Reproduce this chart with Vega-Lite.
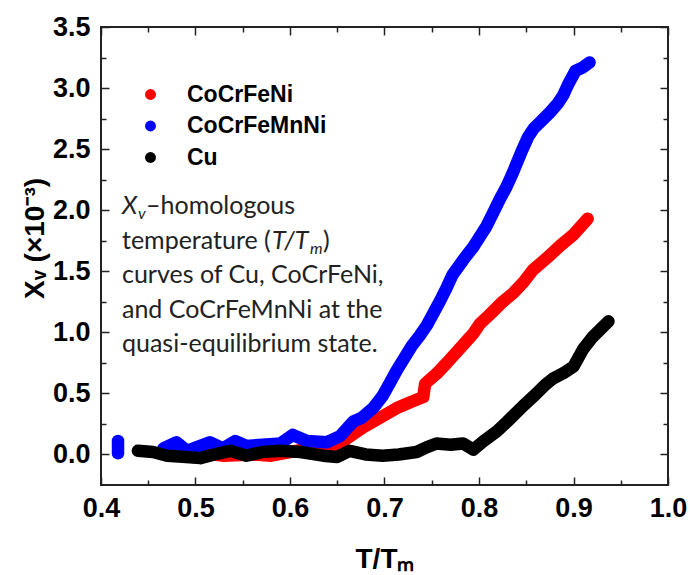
{
  "$schema": "https://vega.github.io/schema/vega-lite/v6.json",
  "width": 567,
  "height": 458,
  "autosize": {"type": "none"},
  "padding": {"left": 101, "top": 27, "right": 22, "bottom": 90},
  "background": "white",
  "config": {
    "view": {"stroke": "#222222", "strokeWidth": 2},
    "axis": {
      "grid": false, "domain": false, "tickColor": "#222222", "tickWidth": 1.5, "labelFlush": false,
      "labelFont": "Liberation Sans", "labelFontWeight": "bold", "labelFontSize": 27, "labelColor": "#000000",
      "titleFont": "Liberation Sans", "titleFontWeight": "bold", "titleColor": "#000000", "titleFontSize": 28
    }
  },
  "datasets": {
    "curves": [
      {"s": "CoCrFeNi", "seg": "a", "t": 0.465, "xv": 0.03},
      {"s": "CoCrFeNi", "seg": "a", "t": 0.50, "xv": 0.02},
      {"s": "CoCrFeNi", "seg": "a", "t": 0.53, "xv": -0.01},
      {"s": "CoCrFeNi", "seg": "a", "t": 0.56, "xv": 0.00},
      {"s": "CoCrFeNi", "seg": "a", "t": 0.58, "xv": -0.01},
      {"s": "CoCrFeNi", "seg": "a", "t": 0.60, "xv": 0.02},
      {"s": "CoCrFeNi", "seg": "a", "t": 0.62, "xv": 0.05},
      {"s": "CoCrFeNi", "seg": "a", "t": 0.642, "xv": 0.06},
      {"s": "CoCrFeNi", "seg": "a", "t": 0.660, "xv": 0.13},
      {"s": "CoCrFeNi", "seg": "a", "t": 0.677, "xv": 0.22},
      {"s": "CoCrFeNi", "seg": "a", "t": 0.695, "xv": 0.30},
      {"s": "CoCrFeNi", "seg": "a", "t": 0.713, "xv": 0.38},
      {"s": "CoCrFeNi", "seg": "a", "t": 0.728, "xv": 0.43},
      {"s": "CoCrFeNi", "seg": "a", "t": 0.741, "xv": 0.47},
      {"s": "CoCrFeNi", "seg": "a", "t": 0.743, "xv": 0.58},
      {"s": "CoCrFeNi", "seg": "a", "t": 0.755, "xv": 0.66},
      {"s": "CoCrFeNi", "seg": "a", "t": 0.766, "xv": 0.75},
      {"s": "CoCrFeNi", "seg": "a", "t": 0.780, "xv": 0.87},
      {"s": "CoCrFeNi", "seg": "a", "t": 0.794, "xv": 0.99},
      {"s": "CoCrFeNi", "seg": "a", "t": 0.801, "xv": 1.07},
      {"s": "CoCrFeNi", "seg": "a", "t": 0.812, "xv": 1.15},
      {"s": "CoCrFeNi", "seg": "a", "t": 0.825, "xv": 1.25},
      {"s": "CoCrFeNi", "seg": "a", "t": 0.836, "xv": 1.32},
      {"s": "CoCrFeNi", "seg": "a", "t": 0.847, "xv": 1.41},
      {"s": "CoCrFeNi", "seg": "a", "t": 0.857, "xv": 1.51},
      {"s": "CoCrFeNi", "seg": "a", "t": 0.872, "xv": 1.61},
      {"s": "CoCrFeNi", "seg": "a", "t": 0.886, "xv": 1.71},
      {"s": "CoCrFeNi", "seg": "a", "t": 0.900, "xv": 1.80},
      {"s": "CoCrFeNi", "seg": "a", "t": 0.915, "xv": 1.93},
      {"s": "CoCrFeMnNi", "seg": "a", "t": 0.418, "xv": 0.01},
      {"s": "CoCrFeMnNi", "seg": "a", "t": 0.418, "xv": 0.06},
      {"s": "CoCrFeMnNi", "seg": "a", "t": 0.418, "xv": 0.11},
      {"s": "CoCrFeMnNi", "seg": "b", "t": 0.466, "xv": 0.05},
      {"s": "CoCrFeMnNi", "seg": "b", "t": 0.480, "xv": 0.10},
      {"s": "CoCrFeMnNi", "seg": "b", "t": 0.491, "xv": 0.03},
      {"s": "CoCrFeMnNi", "seg": "b", "t": 0.505, "xv": 0.07},
      {"s": "CoCrFeMnNi", "seg": "b", "t": 0.515, "xv": 0.10},
      {"s": "CoCrFeMnNi", "seg": "b", "t": 0.529, "xv": 0.05},
      {"s": "CoCrFeMnNi", "seg": "b", "t": 0.542, "xv": 0.11},
      {"s": "CoCrFeMnNi", "seg": "b", "t": 0.554, "xv": 0.07},
      {"s": "CoCrFeMnNi", "seg": "b", "t": 0.571, "xv": 0.08},
      {"s": "CoCrFeMnNi", "seg": "b", "t": 0.590, "xv": 0.09},
      {"s": "CoCrFeMnNi", "seg": "b", "t": 0.603, "xv": 0.16},
      {"s": "CoCrFeMnNi", "seg": "b", "t": 0.618, "xv": 0.11},
      {"s": "CoCrFeMnNi", "seg": "b", "t": 0.639, "xv": 0.10},
      {"s": "CoCrFeMnNi", "seg": "b", "t": 0.653, "xv": 0.15},
      {"s": "CoCrFeMnNi", "seg": "b", "t": 0.667, "xv": 0.27},
      {"s": "CoCrFeMnNi", "seg": "b", "t": 0.676, "xv": 0.30},
      {"s": "CoCrFeMnNi", "seg": "b", "t": 0.688, "xv": 0.38},
      {"s": "CoCrFeMnNi", "seg": "b", "t": 0.698, "xv": 0.48},
      {"s": "CoCrFeMnNi", "seg": "b", "t": 0.706, "xv": 0.59},
      {"s": "CoCrFeMnNi", "seg": "b", "t": 0.713, "xv": 0.69},
      {"s": "CoCrFeMnNi", "seg": "b", "t": 0.721, "xv": 0.79},
      {"s": "CoCrFeMnNi", "seg": "b", "t": 0.729, "xv": 0.89},
      {"s": "CoCrFeMnNi", "seg": "b", "t": 0.737, "xv": 0.97},
      {"s": "CoCrFeMnNi", "seg": "b", "t": 0.745, "xv": 1.06},
      {"s": "CoCrFeMnNi", "seg": "b", "t": 0.752, "xv": 1.16},
      {"s": "CoCrFeMnNi", "seg": "b", "t": 0.759, "xv": 1.26},
      {"s": "CoCrFeMnNi", "seg": "b", "t": 0.766, "xv": 1.37},
      {"s": "CoCrFeMnNi", "seg": "b", "t": 0.772, "xv": 1.47},
      {"s": "CoCrFeMnNi", "seg": "b", "t": 0.783, "xv": 1.59},
      {"s": "CoCrFeMnNi", "seg": "b", "t": 0.794, "xv": 1.70},
      {"s": "CoCrFeMnNi", "seg": "b", "t": 0.808, "xv": 1.87},
      {"s": "CoCrFeMnNi", "seg": "b", "t": 0.815, "xv": 1.98},
      {"s": "CoCrFeMnNi", "seg": "b", "t": 0.822, "xv": 2.09},
      {"s": "CoCrFeMnNi", "seg": "b", "t": 0.829, "xv": 2.19},
      {"s": "CoCrFeMnNi", "seg": "b", "t": 0.836, "xv": 2.31},
      {"s": "CoCrFeMnNi", "seg": "b", "t": 0.845, "xv": 2.48},
      {"s": "CoCrFeMnNi", "seg": "b", "t": 0.852, "xv": 2.60},
      {"s": "CoCrFeMnNi", "seg": "b", "t": 0.858, "xv": 2.67},
      {"s": "CoCrFeMnNi", "seg": "b", "t": 0.866, "xv": 2.73},
      {"s": "CoCrFeMnNi", "seg": "b", "t": 0.875, "xv": 2.80},
      {"s": "CoCrFeMnNi", "seg": "b", "t": 0.883, "xv": 2.87},
      {"s": "CoCrFeMnNi", "seg": "b", "t": 0.889, "xv": 2.94},
      {"s": "CoCrFeMnNi", "seg": "b", "t": 0.895, "xv": 3.04},
      {"s": "CoCrFeMnNi", "seg": "b", "t": 0.902, "xv": 3.14},
      {"s": "CoCrFeMnNi", "seg": "b", "t": 0.910, "xv": 3.17},
      {"s": "CoCrFeMnNi", "seg": "b", "t": 0.917, "xv": 3.21},
      {"s": "Cu", "seg": "a", "t": 0.439, "xv": 0.03},
      {"s": "Cu", "seg": "a", "t": 0.455, "xv": 0.02},
      {"s": "Cu", "seg": "a", "t": 0.470, "xv": -0.01},
      {"s": "Cu", "seg": "a", "t": 0.490, "xv": -0.02},
      {"s": "Cu", "seg": "a", "t": 0.505, "xv": -0.03},
      {"s": "Cu", "seg": "a", "t": 0.520, "xv": 0.00},
      {"s": "Cu", "seg": "a", "t": 0.537, "xv": 0.03},
      {"s": "Cu", "seg": "a", "t": 0.554, "xv": -0.01},
      {"s": "Cu", "seg": "a", "t": 0.571, "xv": 0.02},
      {"s": "Cu", "seg": "a", "t": 0.590, "xv": 0.03},
      {"s": "Cu", "seg": "a", "t": 0.611, "xv": 0.02},
      {"s": "Cu", "seg": "a", "t": 0.635, "xv": -0.01},
      {"s": "Cu", "seg": "a", "t": 0.650, "xv": -0.02},
      {"s": "Cu", "seg": "a", "t": 0.663, "xv": 0.03},
      {"s": "Cu", "seg": "a", "t": 0.680, "xv": 0.00},
      {"s": "Cu", "seg": "a", "t": 0.698, "xv": -0.01},
      {"s": "Cu", "seg": "a", "t": 0.715, "xv": 0.00},
      {"s": "Cu", "seg": "a", "t": 0.734, "xv": 0.02},
      {"s": "Cu", "seg": "a", "t": 0.745, "xv": 0.06},
      {"s": "Cu", "seg": "a", "t": 0.755, "xv": 0.09},
      {"s": "Cu", "seg": "a", "t": 0.770, "xv": 0.08},
      {"s": "Cu", "seg": "a", "t": 0.783, "xv": 0.09},
      {"s": "Cu", "seg": "a", "t": 0.794, "xv": 0.04},
      {"s": "Cu", "seg": "a", "t": 0.805, "xv": 0.11},
      {"s": "Cu", "seg": "a", "t": 0.819, "xv": 0.19},
      {"s": "Cu", "seg": "a", "t": 0.830, "xv": 0.27},
      {"s": "Cu", "seg": "a", "t": 0.847, "xv": 0.40},
      {"s": "Cu", "seg": "a", "t": 0.861, "xv": 0.50},
      {"s": "Cu", "seg": "a", "t": 0.870, "xv": 0.57},
      {"s": "Cu", "seg": "a", "t": 0.878, "xv": 0.62},
      {"s": "Cu", "seg": "a", "t": 0.890, "xv": 0.67},
      {"s": "Cu", "seg": "a", "t": 0.900, "xv": 0.72},
      {"s": "Cu", "seg": "a", "t": 0.910, "xv": 0.86},
      {"s": "Cu", "seg": "a", "t": 0.920, "xv": 0.96},
      {"s": "Cu", "seg": "a", "t": 0.937, "xv": 1.09}
    ],
    "noteNormal": [
      {"tx": 0.44762, "ty": 1.967, "txt": "–homologous"},
      {"tx": 0.42222, "ty": 1.680, "txt": "temperature ("},
      {"tx": 0.63492, "ty": 1.680, "txt": ")"},
      {"tx": 0.42222, "ty": 1.402, "txt": "curves of Cu, CoCrFeNi,"},
      {"tx": 0.42222, "ty": 1.115, "txt": "and CoCrFeMnNi at the"},
      {"tx": 0.42222, "ty": 0.836, "txt": "quasi-equilibrium state."}
    ],
    "noteItalic": [
      {"tx": 0.42222, "ty": 1.967, "txt": "X"},
      {"tx": 0.58095, "ty": 1.680, "txt": "T/T"}
    ],
    "noteSub": [
      {"tx": 0.43915, "ty": 1.926, "txt": "v"},
      {"tx": 0.62116, "ty": 1.639, "txt": "m"}
    ]
  },
  "resolve": {"axis": {"x": "independent", "y": "independent"}},
  "layer": [
    {
      "data": {"name": "curves"},
      "mark": {"type": "point", "filled": true, "size": 90, "opacity": 1, "strokeWidth": 0},
      "encoding": {
        "x": {"field": "t", "type": "quantitative", "scale": {"domain": [0.4, 1.0], "nice": false, "zero": false, "padding": 0},
          "axis": {"orient": "top", "values": [0.45, 0.55, 0.65, 0.75, 0.85, 0.95], "labels": false, "tickSize": -5, "title": null}},
        "y": {"field": "xv", "type": "quantitative", "scale": {"domain": [-0.25, 3.5], "nice": false, "zero": false, "padding": 0},
          "axis": {"orient": "right", "values": [0.25, 0.75, 1.25, 1.75, 2.25, 2.75, 3.25], "labels": false, "tickSize": -5, "title": null}},
        "fill": {"field": "s", "type": "nominal", "scale": {"domain": ["CoCrFeNi", "CoCrFeMnNi", "Cu"], "range": ["#ff0000", "#0000ff", "#000000"]},
          "legend": {"title": null, "orient": "none", "legendX": 38, "legendY": 56, "padding": 0,
            "symbolType": "circle", "symbolSize": 120, "symbolStrokeWidth": 0, "symbolOpacity": 1,
            "labelFont": "Liberation Sans", "labelFontWeight": "bold", "labelFontSize": 23, "labelColor": "#000000",
            "labelOffset": 25, "rowPadding": 7.5}}
      }
    },
    {
      "data": {"name": "curves"},
      "transform": [{"filter": "datum.s === 'CoCrFeNi'"}],
      "mark": {"type": "line", "strokeWidth": 12.5, "strokeCap": "round", "strokeJoin": "round"},
      "encoding": {
        "x": {"field": "t", "type": "quantitative",
          "axis": {"orient": "bottom", "values": [0.4, 0.5, 0.6, 0.7, 0.8, 0.9, 1.0], "format": ".1f", "tickSize": -8, "labelPadding": 18,
            "title": "T/Tₘ", "titleY": 82, "titleBaseline": "alphabetic"}},
        "y": {"field": "xv", "type": "quantitative",
          "axis": {"orient": "left", "values": [0, 0.5, 1, 1.5, 2, 2.5, 3, 3.5], "format": ".1f", "tickSize": -8, "labelPadding": 19,
            "title": "Xᵥ (×10⁻³)", "titleX": -58, "titleY": 211, "titleBaseline": "alphabetic", "titleAngle": -90}},
        "stroke": {"field": "s", "type": "nominal", "scale": {"domain": ["CoCrFeNi", "CoCrFeMnNi", "Cu"], "range": ["#ff0000", "#0000ff", "#000000"]}, "legend": null},
        "detail": {"field": "seg"}
      }
    },
    {
      "data": {"name": "curves"},
      "transform": [{"filter": "datum.s === 'CoCrFeMnNi'"}],
      "mark": {"type": "line", "strokeWidth": 12.5, "strokeCap": "round", "strokeJoin": "round"},
      "encoding": {
        "x": {"field": "t", "type": "quantitative",
          "axis": {"orient": "bottom", "values": [0.45, 0.55, 0.65, 0.75, 0.85, 0.95], "labels": false, "tickSize": -5, "title": null}},
        "y": {"field": "xv", "type": "quantitative",
          "axis": {"orient": "left", "values": [0.25, 0.75, 1.25, 1.75, 2.25, 2.75, 3.25], "labels": false, "tickSize": -5, "title": null}},
        "stroke": {"field": "s", "type": "nominal", "legend": null},
        "detail": {"field": "seg"}
      }
    },
    {
      "data": {"name": "curves"},
      "transform": [{"filter": "datum.s === 'Cu'"}],
      "mark": {"type": "line", "strokeWidth": 12.5, "strokeCap": "round", "strokeJoin": "round"},
      "encoding": {
        "x": {"field": "t", "type": "quantitative",
          "axis": {"orient": "top", "values": [0.4, 0.5, 0.6, 0.7, 0.8, 0.9, 1.0], "labels": false, "tickSize": -8, "title": null}},
        "y": {"field": "xv", "type": "quantitative",
          "axis": {"orient": "right", "values": [0, 0.5, 1, 1.5, 2, 2.5, 3, 3.5], "labels": false, "tickSize": -8, "title": null}},
        "stroke": {"field": "s", "type": "nominal", "legend": null},
        "detail": {"field": "seg"}
      }
    },
    {
      "data": {"name": "noteNormal"},
      "mark": {"type": "text", "align": "left", "baseline": "alphabetic", "font": "Lato", "fontSize": 25, "color": "#222222"},
      "encoding": {
        "x": {"field": "tx", "type": "quantitative", "axis": null},
        "y": {"field": "ty", "type": "quantitative", "axis": null},
        "text": {"field": "txt"}
      }
    },
    {
      "data": {"name": "noteItalic"},
      "mark": {"type": "text", "align": "left", "baseline": "alphabetic", "font": "Lato", "fontSize": 25, "fontStyle": "italic", "color": "#222222"},
      "encoding": {
        "x": {"field": "tx", "type": "quantitative", "axis": null},
        "y": {"field": "ty", "type": "quantitative", "axis": null},
        "text": {"field": "txt"}
      }
    },
    {
      "data": {"name": "noteSub"},
      "mark": {"type": "text", "align": "left", "baseline": "alphabetic", "font": "Lato", "fontSize": 16, "fontStyle": "italic", "color": "#222222"},
      "encoding": {
        "x": {"field": "tx", "type": "quantitative", "axis": null},
        "y": {"field": "ty", "type": "quantitative", "axis": null},
        "text": {"field": "txt"}
      }
    }
  ]
}
